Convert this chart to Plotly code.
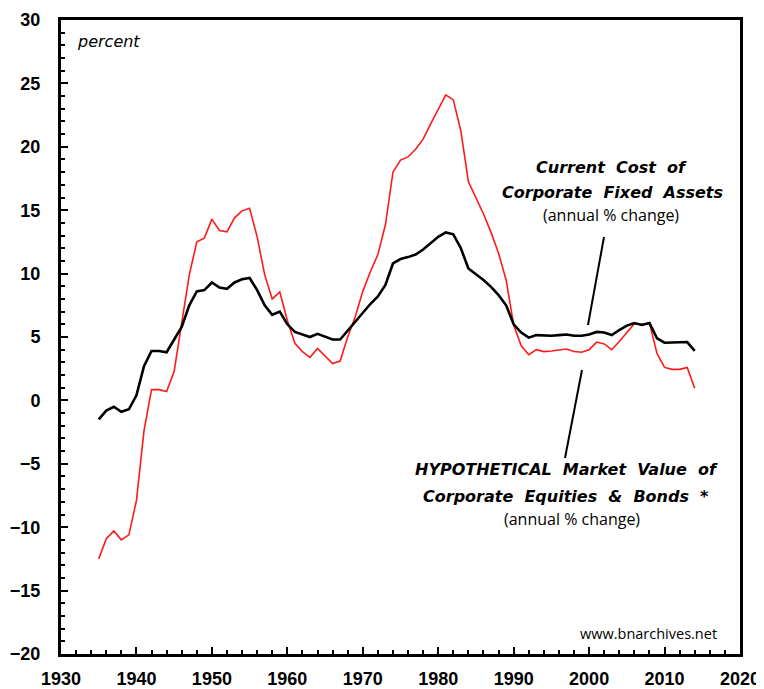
import plotly.graph_objects as go

years = list(range(1935, 2015))

fixed_assets = [
    -1.5, -0.8, -0.5, -0.9, -0.7, 0.4, 2.7, 3.9, 3.9, 3.8,
    4.8, 5.8, 7.5, 8.6, 8.7, 9.3, 8.9, 8.8, 9.3, 9.55,
    9.65, 8.7, 7.5, 6.75, 7.0, 6.0, 5.4, 5.2, 5.0, 5.25,
    5.0, 4.8, 4.8, 5.5, 6.2, 6.9, 7.6, 8.2, 9.1, 10.8,
    11.15, 11.3, 11.5, 11.9, 12.4, 12.9, 13.25, 13.1, 12.0, 10.4,
    9.95, 9.5, 8.95, 8.3, 7.5, 6.0, 5.35, 4.95, 5.15, 5.1,
    5.1, 5.15, 5.2, 5.1, 5.1, 5.2, 5.4, 5.35, 5.15, 5.55,
    5.9, 6.1, 5.95, 6.1, 4.9, 4.55, 4.55, 4.55, 4.6, 3.9,
]

market_value = [
    -12.5, -10.9, -10.3, -11.0, -10.6, -7.9, -2.4, 0.85, 0.85, 0.7,
    2.3, 6.1, 9.9, 12.5, 12.8, 14.3, 13.4, 13.3, 14.4, 14.95,
    15.15, 12.9, 9.9, 8.0, 8.55, 6.3, 4.5, 3.85, 3.4, 4.1,
    3.5, 2.9, 3.1, 5.0, 6.6, 8.6, 10.15, 11.5, 13.85, 18.0,
    18.95, 19.2, 19.8, 20.6, 21.8, 22.95, 24.1, 23.7, 21.25, 17.25,
    15.95, 14.7, 13.25, 11.6, 9.5, 5.95, 4.3, 3.6, 4.0, 3.85,
    3.9, 4.0, 4.05, 3.85, 3.8, 4.0, 4.6, 4.45, 4.0, 4.65,
    5.35, 6.05, 6.0, 6.1, 3.7, 2.6, 2.45, 2.45, 2.6, 0.95,
]

x_ticks = list(range(1930, 2030, 10))
y_ticks = list(range(-20, 35, 5))

# page body has an 8px margin; work in page pixels and offset
OFF = 8
FW, FH = 764 - OFF, 689 - OFF
L, R, T, B = 61, 740, 20, 654

fig = go.Figure()
fig.add_trace(go.Scatter(x=years, y=market_value, mode="lines",
                         line=dict(color="#ff1a1a", width=1.6), showlegend=False))
fig.add_trace(go.Scatter(x=years, y=fixed_assets, mode="lines",
                         line=dict(color="black", width=2.6), showlegend=False))

tickfont = dict(family="Liberation Sans, Arial, sans-serif", size=18, color="black", weight="bold")

fig.update_xaxes(range=[1930, 2020], tickvals=x_ticks, ticks="inside", ticklen=7, tickwidth=2,
                 tickcolor="black", showline=True, linecolor="black", linewidth=3, mirror=True,
                 showgrid=False, zeroline=False, tickfont=tickfont, ticklabelstandoff=6,
                 automargin=False,
                 minor=dict(dtick=2, ticks="inside", ticklen=4, tickwidth=2, tickcolor="black", showgrid=False))
fig.update_yaxes(range=[-20, 30], tickvals=y_ticks, ticks="inside", ticklen=7, tickwidth=2,
                 tickcolor="black", showline=True, linecolor="black", linewidth=3, mirror=True,
                 showgrid=False, zeroline=False, tickfont=tickfont, ticklabelstandoff=14,
                 automargin=False,
                 minor=dict(dtick=1, ticks="inside", ticklen=4, tickwidth=2, tickcolor="black", showgrid=False))

bi = dict(family="DejaVu Sans, sans-serif", size=16, color="black", weight="bold", style="italic")
nf = dict(family="Open Sans, sans-serif", size=16, color="black")

annotations = [
    dict(x=75, y=41, text="percent", font=dict(family="DejaVu Sans, sans-serif", size=16, color="black", style="italic"), xanchor="left"),
    dict(x=611, y=167, text="Current  Cost  of", font=bi),
    dict(x=612, y=192, text="Corporate  Fixed  Assets", font=bi),
    dict(x=611, y=215, text="(annual % change)", font=nf),
    dict(x=566, y=469, text="HYPOTHETICAL  Market  Value  of", font=bi),
    dict(x=566, y=496, text="Corporate  Equities  &  Bonds  *", font=bi),
    dict(x=572, y=519, text="(annual % change)", font=nf),
    dict(x=648, y=633, text="www.bnarchives.net", font=dict(family="Open Sans, sans-serif", size=14.5, color="black")),
]
W, H = R - L, B - T
for a in annotations:
    a.setdefault("xanchor", "center")
    fig.add_annotation(xref="paper", yref="paper", x=(a.pop("x") - L) / W, y=1 - (a.pop("y") - T) / H,
                       showarrow=False, yanchor="middle", **a)

shapes = [((604, 237), (588, 325)), ((582, 370), (565, 458))]
for (x0, y0), (x1, y1) in shapes:
    fig.add_shape(type="line", xref="paper", yref="paper",
                  x0=(x0 - L) / W, y0=1 - (y0 - T) / H,
                  x1=(x1 - L) / W, y1=1 - (y1 - T) / H,
                  line=dict(color="black", width=2))

fig.update_layout(width=FW, height=FH,
                  margin=dict(l=L - OFF, r=FW - (R - OFF), t=T - OFF, b=FH - (B - OFF), autoexpand=False),
                  plot_bgcolor="white", paper_bgcolor="white")

fig.write_html("out.html")
